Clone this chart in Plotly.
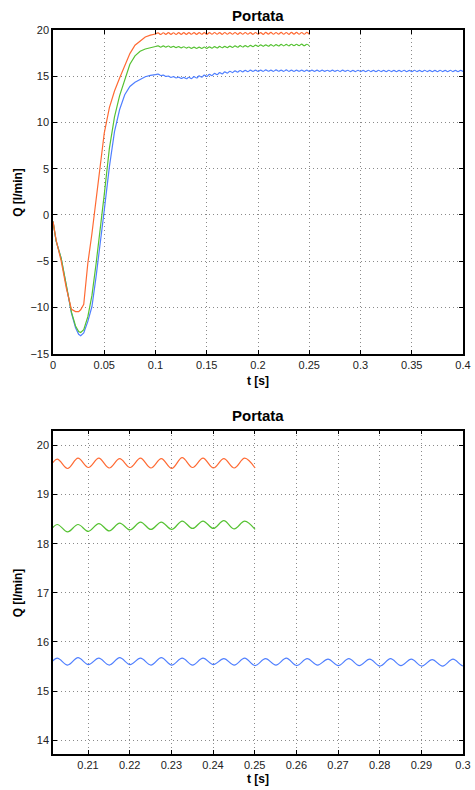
import numpy as np
import plotly.graph_objects as go

# ---------------- data ----------------
# transient part, shared time stamps [s]
t_rise = [0, 0.003, 0.008, 0.013, 0.018, 0.022, 0.025, 0.027, 0.030, 0.034, 0.038, 0.042,
          0.046, 0.050, 0.055, 0.060, 0.065, 0.070, 0.075, 0.080, 0.085, 0.090, 0.095, 0.100]
q_rise_orange = [-0.7, -2.7, -5.0, -7.9, -10.2, -10.45, -10.45, -10.25, -9.65, -5.2, -2.0, 1.7,
                 5.4, 8.85, 11.6, 13.4, 14.8, 16.2, 17.45, 18.35, 18.85, 19.25, 19.45, 19.57]
q_rise_green = [-0.7, -2.8, -4.7, -7.5, -10.5, -12.0, -12.6, -12.7, -12.4, -11.0, -8.7, -5.3,
                -1.8, 2.2, 7.2, 10.6, 12.9, 14.7, 16.3, 17.2, 17.7, 17.95, 18.12, 18.22]
q_rise_blue = [-0.7, -2.8, -4.7, -7.5, -10.6, -12.2, -12.9, -13.05, -12.75, -11.5, -9.9, -6.7,
               -3.4, 0.5, 5.2, 9.0, 11.4, 13.0, 13.9, 14.35, 14.65, 14.95, 15.1, 15.18]

# ripple part: alternating peak / trough values every half period
ripple_t0 = 0.1026
ripple_half_period = 0.0025
q_ripple_orange = [
    19.68, 19.52, 19.70, 19.53, 19.71, 19.53, 19.70, 19.52, 19.71, 19.53,
    19.72, 19.53, 19.71, 19.54, 19.72, 19.53, 19.72, 19.54, 19.71, 19.53,
    19.72, 19.54, 19.73, 19.54, 19.72, 19.53, 19.73, 19.54, 19.72, 19.54,
    19.73, 19.53, 19.72, 19.54, 19.73, 19.54, 19.72, 19.53, 19.73, 19.54,
    19.72, 19.53, 19.74, 19.55, 19.74, 19.54, 19.73, 19.55, 19.74, 19.54,
    19.73, 19.53, 19.75, 19.55, 19.74, 19.54, 19.73, 19.54, 19.74, 19.54]
q_ripple_green = [
    18.29, 18.15, 18.29, 18.15, 18.27, 18.13, 18.24, 18.10, 18.21, 18.07,
    18.19, 18.05, 18.16, 18.02, 18.15, 18.01, 18.15, 18.01, 18.16, 18.02,
    18.18, 18.04, 18.20, 18.06, 18.22, 18.08, 18.24, 18.10, 18.26, 18.12,
    18.28, 18.14, 18.30, 18.16, 18.32, 18.18, 18.34, 18.20, 18.36, 18.23,
    18.39, 18.24, 18.39, 18.25, 18.41, 18.26, 18.42, 18.28, 18.44, 18.29,
    18.44, 18.29, 18.46, 18.31, 18.46, 18.31, 18.47, 18.30, 18.46, 18.29]
q_ripple_blue = [
    15.22, 15.08, 15.12, 14.98, 15.02, 14.88, 14.95, 14.81, 14.90, 14.76,
    14.87, 14.73, 14.89, 14.75, 14.95, 14.81, 15.03, 14.89, 15.12, 14.98,
    15.21, 15.07, 15.31, 15.17, 15.40, 15.26, 15.48, 15.34, 15.54, 15.40,
    15.59, 15.45, 15.62, 15.48, 15.64, 15.50, 15.66, 15.52, 15.67, 15.53,
    15.67, 15.53, 15.68, 15.54, 15.67, 15.53, 15.68, 15.54, 15.67, 15.53,
    15.68, 15.53, 15.67, 15.53, 15.67, 15.54, 15.66, 15.53, 15.67, 15.52,
    15.66, 15.53, 15.67, 15.52, 15.66, 15.53, 15.65, 15.52, 15.66, 15.52,
    15.65, 15.51, 15.66, 15.52, 15.65, 15.51, 15.64, 15.51, 15.65, 15.51,
    15.64, 15.50, 15.65, 15.51, 15.64, 15.50, 15.65, 15.51, 15.64, 15.50,
    15.65, 15.51, 15.64, 15.50, 15.64, 15.51, 15.65, 15.50, 15.64, 15.50,
    15.65, 15.51, 15.64, 15.50, 15.65, 15.51, 15.64, 15.50, 15.64, 15.50,
    15.65, 15.51, 15.64, 15.50, 15.65, 15.51, 15.64, 15.50, 15.64, 15.50]

# axis ticks
top_xticks = [0, 0.05, 0.1, 0.15, 0.2, 0.25, 0.3, 0.35, 0.4]
top_xlabels = ["0", "0.05", "0.1", "0.15", "0.2", "0.25", "0.3", "0.35", "0.4"]
top_yticks = [-15, -10, -5, 0, 5, 10, 15, 20]
bot_xticks = [0.21, 0.22, 0.23, 0.24, 0.25, 0.26, 0.27, 0.28, 0.29, 0.3]
bot_xlabels = ["0.21", "0.22", "0.23", "0.24", "0.25", "0.26", "0.27", "0.28", "0.29", "0.3"]
bot_yticks = [14, 15, 16, 17, 18, 19, 20]

title_text = "Portata"
xlabel_text = "t [s]"
ylabel_text = "Q [l/min]"

# ---------------- build series ----------------
def ripple_series(q_rise, q_ripple):
    t_rip = ripple_t0 + ripple_half_period * np.arange(len(q_ripple))
    # start from the last transient point so the curve is continuous
    t = np.concatenate([[t_rise[-1]], t_rip])
    q = np.concatenate([[q_rise[-1]], np.array(q_ripple)])
    return t, q

colors = {"blue": "#4f7fff", "green": "#55c232", "orange": "#ff6a33"}
rises = {"blue": q_rise_blue, "green": q_rise_green, "orange": q_rise_orange}
ripples = {"blue": q_ripple_blue, "green": q_ripple_green, "orange": q_ripple_orange}

fig = go.Figure()
for name in ["blue", "green", "orange"]:
    tr, qr = ripple_series(rises[name], ripples[name])
    for xa, ya in [("x", "y"), ("x2", "y2")]:
        fig.add_trace(go.Scatter(x=t_rise, y=rises[name], mode="lines", xaxis=xa, yaxis=ya,
                                 line=dict(color=colors[name], width=1.2),
                                 showlegend=False, hoverinfo="skip"))
        fig.add_trace(go.Scatter(x=tr, y=qr, mode="lines", xaxis=xa, yaxis=ya,
                                 line=dict(color=colors[name], width=1.2, shape="spline"),
                                 showlegend=False, hoverinfo="skip"))

FONT = "Helvetica, 'Liberation Sans', Arial, sans-serif"
axis_common = dict(showline=True, linecolor="black", linewidth=1.5, mirror="allticks",
                   ticks="inside", ticklen=4, tickcolor="black", tickwidth=1,
                   showgrid=True, gridcolor="#8a8a8a", gridwidth=1, griddash="1px,3px",
                   zeroline=False, automargin=False,
                   tickfont=dict(family=FONT, size=11, color="#222"))

fig.update_layout(
    width=475, height=790,
    margin=dict(l=53, r=12, t=30, b=36),
    paper_bgcolor="white", plot_bgcolor="white",
    xaxis=dict(domain=[0, 1], range=[0, 0.4], tickvals=top_xticks, ticktext=top_xlabels,
               anchor="y", **axis_common),
    yaxis=dict(domain=[0.5529, 1], range=[-15, 20], tickvals=top_yticks, anchor="x",
               **axis_common),
    xaxis2=dict(domain=[0, 1], range=[0.2016, 0.3], tickvals=bot_xticks, ticktext=bot_xlabels,
                anchor="y2", **axis_common),
    yaxis2=dict(domain=[0, 0.4466], range=[13.72, 20.3], tickvals=bot_yticks, anchor="x2",
                **axis_common),
)

def ann(text, x, y, size, angle=0):
    fig.add_annotation(text="<b>%s</b>" % text, x=x, y=y, xref="paper", yref="paper",
                       showarrow=False, xanchor="center", yanchor="middle", textangle=angle,
                       font=dict(family=FONT, size=size, color="black"))

ann(title_text, 0.5, 1.0207, 15)
ann(title_text, 0.5, 0.4682, 15)
ann(xlabel_text, 0.5, 0.5152, 12)
ann(xlabel_text, 0.5, -0.0345, 12)
ann(ylabel_text, -0.0854, 0.7765, 12, -90)
ann(ylabel_text, -0.0854, 0.2233, 12, -90)

fig.write_html("out.html", config={"displayModeBar": False},
               post_script="document.body.style.margin='0';document.body.style.padding='0';")
